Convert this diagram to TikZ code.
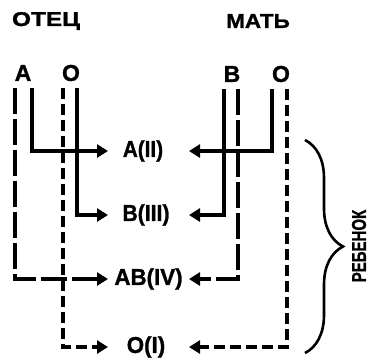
\documentclass[tikz,border=0pt]{standalone}
\usepackage{fontspec}
\setmainfont{Liberation Sans}[BoldFeatures={FakeBold=1.2}]
\usetikzlibrary{arrows.meta,decorations.pathreplacing}
\newcommand{\hsc}[2]{\scalebox{#1}[1]{#2}}
\begin{document}
\begin{tikzpicture}[x=1pt,y=-1pt,
  lbl/.style={font=\fontsize{23}{25}\selectfont\bfseries, inner sep=0pt},
  ttl/.style={font=\fontsize{20}{22}\selectfont\bfseries, inner sep=0pt},
  solidln/.style={line width=3.8pt},
  longdash/.style={line width=3.4pt, dash pattern=on 26pt off 5pt},
  shortdash/.style={line width=3.4pt, dash pattern=on 11pt off 5pt},
  arr/.style={-{Triangle[length=11pt,width=13pt]}},
  bracestyle/.style={line width=2.6pt, decorate, decoration={brace, amplitude=38pt}}
]
\useasboundingbox (0,0) rectangle (369,357);
% titles
\node[ttl] (father) at (46,21) {\hsc{1.22}{ОТЕЦ}};
\node[ttl] (mother) at (258,21) {\hsc{1.12}{МАТЬ}};
% alleles
\node[lbl] (fA) at (23,73) {A};
\node[lbl] (fO) at (71,73) {O};
\node[lbl] (mB) at (232,74) {B};
\node[lbl] (mO) at (281,74) {O};
% children
\node[lbl] (c1) at (143,151) {\hsc{0.9}{A(II)}};
\node[lbl] (c2) at (146,215) {\hsc{0.92}{B(III)}};
\node[lbl] (c3) at (148.5,279) {\hsc{0.97}{AB(IV)}};
\node[lbl] (c4) at (146,347) {\hsc{0.97}{O(I)}};
% line starts
\coordinate (fA1) at (15,88);
\coordinate (fA2) at (32,88);
\coordinate (fO1) at (63,88);
\coordinate (fO2) at (77,88);
\coordinate (mB1) at (224,89);
\coordinate (mB2) at (238,89);
\coordinate (mO1) at (272,89);
\coordinate (mO2) at (287,89);
\coordinate (L) at (108,0);
\coordinate (R) at (189,0);
% father
\draw[solidln,arr] (fA2) |- (c1.west -| L);
\draw[solidln,arr] (fO2) |- (c2.west -| L);
\draw[longdash,arr] (fA1) |- (c3.west -| L);
\draw[shortdash,arr] (fO1) |- (c4.west -| L);
% mother
\draw[solidln,arr] (mO1) |- (c1.east -| R);
\draw[solidln,arr] (mB1) |- (c2.east -| R);
\draw[longdash,arr] (mB2) |- (c3.east -| R);
\draw[shortdash,arr] (mO2) |- (c4.east -| R);
% brace
\coordinate (bt) at (305,140);
\coordinate (bb) at (305,353);
\draw[bracestyle] (bt) -- (bb);
\node[ttl, rotate=90] (child) at (359,246) {\hsc{0.75}{РЕБЕНОК}};
\end{tikzpicture}
\end{document}
